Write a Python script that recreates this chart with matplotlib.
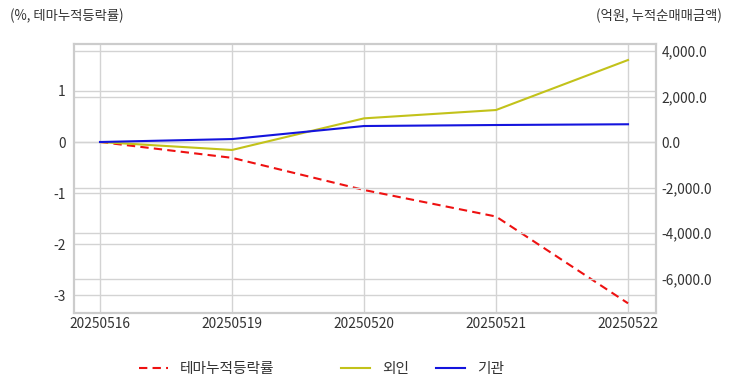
import matplotlib.pyplot as plt
from matplotlib.ticker import FuncFormatter

plt.rcParams['font.family'] = ['Noto Sans CJK KR', 'DejaVu Sans']
plt.rcParams['axes.unicode_minus'] = False

dates = ['20250516', '20250519', '20250520', '20250521', '20250522']
theme_rate = [0.0, -0.31, -0.94, -1.46, -3.16]
foreign = [0.0, -350.0, 1040.0, 1406.0, 3604.0]
institution = [0.0, 130.0, 703.0, 747.0, 780.0]

left_ticks = [-3, -2, -1, 0, 1]
right_ticks = [-6000, -4000, -2000, 0, 2000, 4000]

grid_c = '#d3d3d3'
txt_c = '#333333'

fig = plt.figure(figsize=(7.32, 3.92), dpi=100)
ax = fig.add_axes([74 / 732, 1 - 313 / 392, (656 - 74) / 732, (313 - 44) / 392])
ax2 = ax.twinx()

x = list(range(len(dates)))
ax.plot(x, theme_rate, color='#ee1111', lw=1.5, ls=(0, (4, 2.5)), label='테마누적등락률')
ax2.plot(x, foreign, color='#c2c21a', lw=1.5, label='외인')
ax2.plot(x, institution, color='#1414dd', lw=1.5, label='기관')

ax.set_xlim(-0.197, 4.212)
ax.set_ylim(-3.35, 1.92)
ax2.set_ylim(-7516, 4308)

ax.set_xticks(x)
ax.set_xticklabels(dates)
ax.set_yticks(left_ticks)
ax2.set_yticks(right_ticks)
ax2.yaxis.set_major_formatter(FuncFormatter(lambda v, p: f'{v:,.1f}'))

ax.grid(True, color=grid_c, lw=1)
ax2.grid(True, axis='y', color=grid_c, lw=1)
ax.set_axisbelow(True)
ax2.set_axisbelow(True)

for a in (ax, ax2):
    a.tick_params(length=0, labelsize=9.9, colors=txt_c)
    for s in a.spines.values():
        s.set_color('#cccccc')
        s.set_linewidth(1.5)
ax.tick_params(axis='y', pad=6)
ax2.tick_params(axis='y', pad=4)
ax.tick_params(axis='x', pad=3)

fig.text(10 / 732, 1 - 16 / 392, '(%, 테마누적등락률)', fontsize=9.6, color=txt_c,
         ha='left', va='center')
fig.text(722 / 732, 1 - 16 / 392, '(억원, 누적순매매금액)', fontsize=9.6, color=txt_c,
         ha='right', va='center')

h1, l1 = ax.get_legend_handles_labels()
h2, l2 = ax2.get_legend_handles_labels()
handles = h1 + h2
labels = l1 + l2
starts = [139, 341, 436]
for hd, lb, sx in zip(handles, labels, starts):
    fig.legend([hd], [lb], loc='center left', bbox_to_anchor=(sx / 732, 1 - 369 / 392),
               frameon=False, fontsize=10.6, handlelength=2.0, handletextpad=0.8,
               borderpad=0, borderaxespad=0, labelcolor=txt_c)

fig.savefig('out.png', dpi=100)
